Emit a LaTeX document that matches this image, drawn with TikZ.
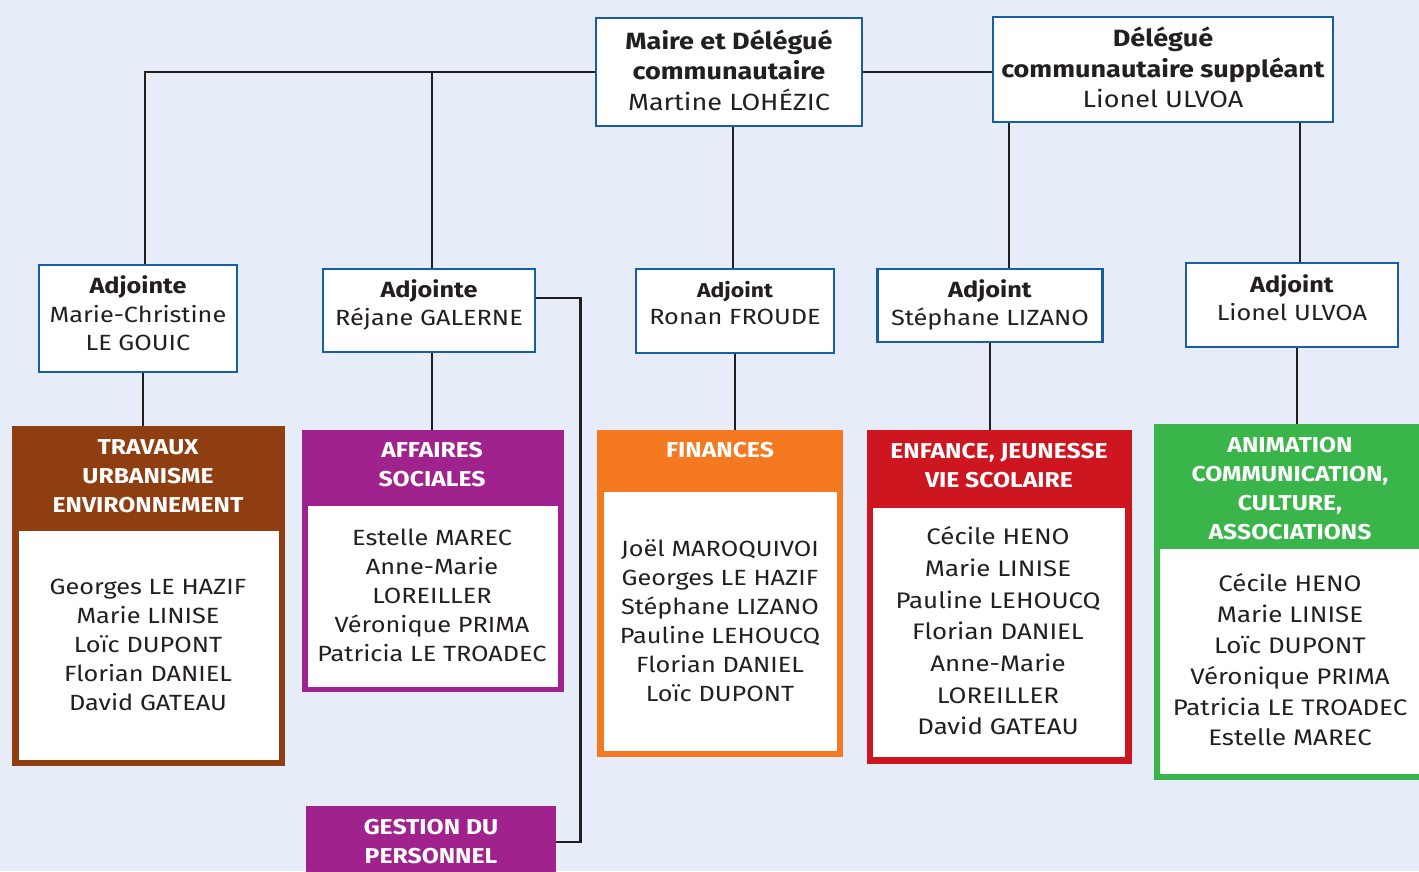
\documentclass[tikz,border=0pt]{standalone}
\usepackage{fontspec}
\setmainfont[FakeStretch=1.15]{Fira Sans}
\usetikzlibrary{calc}
\definecolor{bg}{RGB}{230,237,248}
\definecolor{bl}{RGB}{22,94,166}
\definecolor{ink}{RGB}{35,31,32}
\definecolor{cbrown}{RGB}{143,62,17}
\definecolor{cpurple}{RGB}{160,34,140}
\definecolor{corange}{RGB}{244,121,32}
\definecolor{cred}{RGB}{206,22,32}
\definecolor{cgreen}{RGB}{58,181,74}
\pgfdeclarelayer{background}
\pgfsetlayers{background,main}
\begin{document}
\begin{tikzpicture}[x=1pt,y=-1pt,
  box/.style={draw=bl, line width=2.8pt, fill=white, inner sep=0pt},
  txt/.style={inner sep=0pt, align=center, text=ink, font=\fontsize{22}{28.5}\selectfont},
  toptxt/.style={txt, font=\fontsize{23.5}{30.5}\selectfont},
  dept/.style={fill=#1, draw=none, inner sep=0pt},
  inner/.style={fill=white, draw=none, inner sep=0pt},
  hdr/.style={text=white, inner sep=0pt, align=center, font=\bfseries\fontsize{21.5}{29}\selectfont},
  lst/.style={text=ink, inner sep=0pt, align=center, font=\fontsize{22}{29}\selectfont},
  conn/.style={draw=ink, line width=2.6pt}]
\begin{pgfonlayer}{background}
\fill[bg] (0,0) rectangle (1419,871);
\end{pgfonlayer}
\useasboundingbox (0,0) rectangle (1419,871);

% top boxes
\node[box, minimum width=266pt, minimum height=108pt] (maire) at (729,72) {};
\node[toptxt] (mairet) at (729,70)
  {\textbf{Maire et Délégué}\\\textbf{communautaire}\\Martine LOHÉZIC};
\node[box, minimum width=340pt, minimum height=105pt] (deleg) at (1163,69.5) {};
\node[toptxt] (delegt) at (1163,67.5)
  {\textbf{Délégué}\\\textbf{communautaire suppléant}\\Lionel ULVOA};

% adjoints
\node[box, minimum width=198pt, minimum height=107pt] (a1) at (138,318.5) {};
\node[txt] (a1t) at (138,313.5) {\textbf{Adjointe}\\Marie-Christine\\LE GOUIC};
\node[box, minimum width=212pt, minimum height=83pt] (a2) at (429,310.5) {};
\node[txt] (a2t) at (429,305) {\textbf{Adjointe}\\Réjane GALERNE};
\node[box, minimum width=198pt, minimum height=84pt] (a3) at (735,311) {};
\node[txt, font=\fontsize{22}{27}\selectfont] (a3t) at (735,303.5)
  {{\bfseries\fontsize{20}{27}\selectfont Adjoint}\\Ronan FROUDE};
\node[box, minimum width=225pt, minimum height=73pt] (a4) at (990,305.5) {};
\node[txt] (a4t) at (990,305) {\textbf{Adjoint}\\Stéphane LIZANO};
\node[box, minimum width=212pt, minimum height=84pt] (a5) at (1292,305) {};
\node[txt] (a5t) at (1292,297.5) {\textbf{Adjoint}\\Lionel ULVOA};

% departments
\node[dept=cbrown, minimum width=273pt, minimum height=340pt] (trav) at (148.5,596) {};
\node[inner, minimum width=260pt, minimum height=229pt] (travw) at (149,645.5) {};
\node[hdr] (travh) at (148,476) {TRAVAUX\\URBANISME\\ENVIRONNEMENT};
\node[lst] (travl) at (148,645) {Georges LE HAZIF\\Marie LINISE\\Loïc DUPONT\\Florian DANIEL\\David GATEAU};

\node[dept=cpurple, minimum width=262pt, minimum height=262pt] (aff) at (433,561) {};
\node[inner, minimum width=250pt, minimum height=181pt] (affw) at (433,596.5) {};
\node[hdr] (affh) at (432,464.5) {AFFAIRES\\SOCIALES};
\node[lst] (affl) at (432,595) {Estelle MAREC\\Anne-Marie\\LOREILLER\\Véronique PRIMA\\Patricia LE TROADEC};

\node[dept=corange, minimum width=246pt, minimum height=327pt] (fin) at (720,593.5) {};
\node[inner, minimum width=233pt, minimum height=259pt] (finw) at (720.5,621.5) {};
\node[hdr] (finh) at (720,450) {FINANCES};
\node[lst] (finl) at (720,620.5) {Joël MAROQUIVOI\\Georges LE HAZIF\\Stéphane LIZANO\\Pauline LEHOUCQ\\Florian DANIEL\\Loïc DUPONT};

\node[dept=cred, minimum width=265pt, minimum height=334pt] (enf) at (999.5,597) {};
\node[inner, minimum width=252pt, minimum height=249pt] (enfw) at (999,632.5) {};
\node[hdr] (enfh) at (999,465.5) {ENFANCE, JEUNESSE\\VIE SCOLAIRE};
\node[lst, font=\fontsize{22.5}{31.7}\selectfont] (enfl) at (998,631) {Cécile HENO\\Marie LINISE\\Pauline LEHOUCQ\\Florian DANIEL\\Anne-Marie\\LOREILLER\\David GATEAU};

\node[dept=cgreen, minimum width=271pt, minimum height=356pt] (anim) at (1289.5,602) {};
\node[inner, minimum width=259pt, minimum height=225pt] (animw) at (1289.5,661.5) {};
\node[hdr] (animh) at (1290,488.5) {ANIMATION\\COMMUNICATION,\\CULTURE,\\ASSOCIATIONS};
\node[lst, font=\fontsize{22.5}{30.8}\selectfont] (animl) at (1290,660) {Cécile HENO\\Marie LINISE\\Loïc DUPONT\\Véronique PRIMA\\Patricia LE TROADEC\\Estelle MAREC};

\node[dept=cpurple, minimum width=250pt, minimum height=72pt] (gest) at (431,842) {};
\node[hdr] (gesth) at (431,841.5) {GESTION DU\\PERSONNEL};

% connectors
\begin{pgfonlayer}{background}
\coordinate (c1) at ([xshift=7pt]a1.north);
\coordinate (c2) at ([xshift=3pt]a2.north);
\coordinate (c3) at ([xshift=4pt]maire.south);
\coordinate (c4) at ([xshift=-154pt]deleg.south);
\coordinate (c5) at ([xshift=137pt]deleg.south);
\coordinate (d1) at ([xshift=5pt]a1.south);
\coordinate (d2) at ([xshift=3pt]a2.south);
\coordinate (d5) at ([xshift=5pt]a5.south);
\coordinate (g1) at ([yshift=12.5pt]a2.east);
\draw[conn] (c1) |- (maire.west);
\draw[conn] (c2) -- (c2 |- maire.west);
\draw[conn] (maire.east) -- (maire.east -| deleg.west);
\draw[conn] (c3) -- (c3 |- a3.north);
\draw[conn] (c4) -- (c4 |- a4.north);
\draw[conn] (c5) -- (c5 |- a5.north);
\draw[conn] (d1) -- (d1 |- trav.north);
\draw[conn] (d2) -- (d2 |- aff.north);
\draw[conn] (a3.south) -- (a3.south |- fin.north);
\draw[conn] (a4.south) -- (a4.south |- enf.north);
\draw[conn] (d5) -- (d5 |- anim.north);
\draw[conn] (g1) -- ++(44,0) |- (gest.east);
\end{pgfonlayer}
\end{tikzpicture}
\end{document}
